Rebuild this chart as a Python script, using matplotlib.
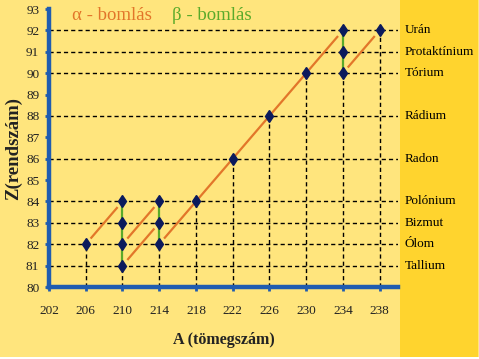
import matplotlib
matplotlib.use("Agg")
import matplotlib.pyplot as plt
from matplotlib.patches import Rectangle

plt.rcParams["font.family"] = ["Liberation Serif", "DejaVu Serif"]

# nuclei on the chart (mass number A, atomic number Z)
nucleus_a = [238, 234, 234, 234, 230, 226, 222, 218, 214, 214, 214, 210, 210, 210, 210, 206]
nucleus_z = [92, 92, 91, 90, 90, 88, 86, 84, 84, 83, 82, 84, 83, 82, 81, 82]

# alpha decay chains drawn as straight lines (start A, start Z, end A, end Z)
alpha_from_a = [238, 234, 214, 214, 210]
alpha_from_z = [92, 92, 84, 83, 84]
alpha_to_a = [234, 214, 210, 210, 206]
alpha_to_z = [90, 82, 82, 81, 82]

# beta decay (vertical)
beta_a = [210, 214, 234]
beta_z_low = [81, 82, 90]
beta_z_high = [84, 84, 92]

element_names = ["Urán", "Protaktínium", "Tórium", "Rádium", "Radon",
                 "Polónium", "Bizmut", "Ólom", "Tallium"]
element_z = [92, 91, 90, 88, 86, 84, 83, 82, 81]

x_ticks = [202, 206, 210, 214, 218, 222, 226, 230, 234, 238]
y_ticks = list(range(80, 94))

bg = "#FFE57D"
side = "#FFD42E"
blue = "#1F5CB0"
orange = "#E2762A"
green = "#5AAA2A"
navy = "#0B1A5C"

fig = plt.figure(figsize=(4.79, 3.59), dpi=100)
fig.patch.set_facecolor(bg)
fig.patches.append(Rectangle((400 / 479, 2 / 359), 78 / 479, 357 / 359, transform=fig.transFigure,
                             facecolor=side, edgecolor="none", zorder=-1))
fig.patches.append(Rectangle((0, 0), 1, 2 / 359, transform=fig.transFigure,
                             facecolor="white", edgecolor="none", zorder=-1))

ax = fig.add_axes([49 / 479, 1 - 287 / 359, 349 / 479, 278 / 359])
ax.set_facecolor("none")
ax.set_xlim(202, 240)
ax.set_ylim(80, 93)

dash = (0, (3.0, 2.2))
# horizontal guide lines for each element
for z in element_z:
    ax.plot([202, 240], [z, z], color="black", lw=1.0, linestyle=dash, zorder=1)

# vertical guide lines down from the lowest nucleus at each mass number
lowest = {}
for a, z in zip(nucleus_a, nucleus_z):
    lowest[a] = min(z, lowest.get(a, 99))
for a, z in lowest.items():
    ax.plot([a, a], [80, z], color="black", lw=1.0, linestyle=dash, zorder=1)

# alpha lines, shortened a little at both ends
gap = 0.35
for a0, z0, a1, z1 in zip(alpha_from_a, alpha_from_z, alpha_to_a, alpha_to_z):
    da, dz = a1 - a0, z1 - z0
    n = (da ** 2 + (dz * 2.3) ** 2) ** 0.5
    fa, fz = gap * da / n * 2.3, gap * dz / n * 2.3
    ax.plot([a0 + fa, a1 - fa], [z0 + fz, z1 - fz], color=orange, lw=1.6,
            solid_capstyle="butt", zorder=2)

for a, zl, zh in zip(beta_a, beta_z_low, beta_z_high):
    ax.plot([a, a], [zl, zh], color=green, lw=1.6, zorder=2)

ax.plot(nucleus_a, nucleus_z, linestyle="none", marker="d", markersize=6,
        color=navy, markeredgecolor=navy, zorder=3)

for name, z in zip(element_names, element_z):
    ax.text(1.02, z, name, transform=ax.get_yaxis_transform(), fontsize=9.5,
            va="center", ha="left", color="black", zorder=5)

ax.set_xticks(x_ticks)
ax.set_yticks(y_ticks)
ax.tick_params(axis="both", colors=blue, width=2, length=3, direction="out",
               labelcolor="#222222", labelsize=9.5)
ax.tick_params(axis="x", pad=10)
ax.tick_params(axis="y", pad=4)

for s in ["top", "right"]:
    ax.spines[s].set_visible(False)
for s in ["left", "bottom"]:
    ax.spines[s].set_color(blue)
    ax.spines[s].set_linewidth(3.2)

ax.set_xlabel("A (tömegszám)", fontsize=11.5, fontweight="bold",
              color="#222222", labelpad=11)
ax.set_ylabel("Z(rendszám)", fontsize=13.5, fontweight="bold",
              color="#222222", labelpad=3)

fig.text(72 / 479, 1 - 15 / 359, "\u03b1 - bomlás", color=orange, fontsize=13.5,
         va="center", ha="left")
fig.text(172 / 479, 1 - 15 / 359, "\u03b2 - bomlás", color=green, fontsize=13.5,
         va="center", ha="left")

fig.savefig("out.png", dpi=100, facecolor=fig.get_facecolor())
